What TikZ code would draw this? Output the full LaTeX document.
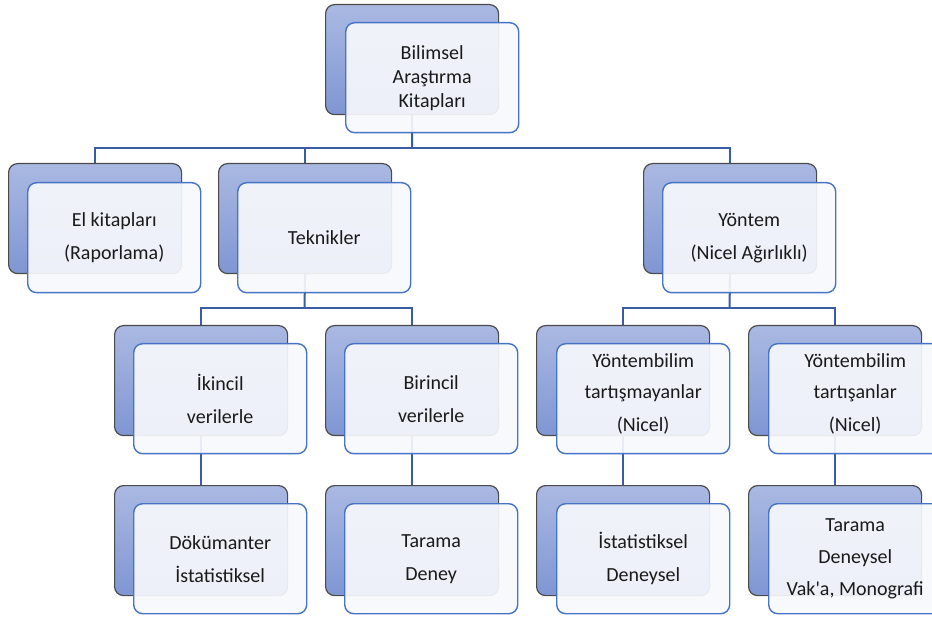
\documentclass[tikz,border=0pt]{standalone}
\usepackage{fontspec}
\setmainfont{Carlito}
\usetikzlibrary{backgrounds}
\definecolor{backtop}{HTML}{AAB9E2}
\definecolor{backbot}{HTML}{7F96D3}
\definecolor{backline}{HTML}{4A4A4A}
\definecolor{frontline}{HTML}{4673C6}
\definecolor{frontfill}{HTML}{F7F8FC}
\definecolor{connc}{HTML}{3A5CA6}
\definecolor{textc}{HTML}{1A1A1A}
\begin{document}
\begin{tikzpicture}[x=1pt,y=-1pt,
  back/.style={draw=backline, line width=1.2pt, rounded corners=9pt,
    top color=backtop, bottom color=backbot,
    minimum width=173pt, minimum height=110pt, anchor=north west, inner sep=0pt},
  front/.style={draw=frontline, line width=1.4pt, rounded corners=9pt,
    fill=frontfill, fill opacity=0.92, text opacity=1,
    minimum width=173pt, minimum height=110pt, anchor=north west, inner sep=0pt,
    align=center, text=textc, font=\fontsize{20}{24}\selectfont},
  conn/.style={draw=connc, line width=2pt}]
\useasboundingbox (0,0) rectangle (932,617);
% level 1
\node[back] (b0) at (325,4) {};
\node[front] (f0) at (345,22) {Bilimsel\\Araştırma\\Kitapları};
% level 2
\node[back] (b1) at (8,163) {};
\node[front] (f1) at (27,182) {El kitapları\\[9pt](Raporlama)};
\node[back] (b2) at (218,163) {};
\node[front] (f2) at (237,182) {Teknikler};
\node[back] (b3) at (643,163) {};
\node[front] (f3) at (662,182) {Yöntem\\[9pt](Nicel Ağırlıklı)};
% level 3
\node[back] (b4) at (114,325) {};
\node[front] (f4) at (133,343) {İkincil\\[9pt]verilerle};
\node[back] (b5) at (325,325) {};
\node[front] (f5) at (344,343) {Birincil\\[9pt]verilerle};
\node[back] (b6) at (536,325) {};
\node[front] (f6) at (556,343) {Yöntembilim\\[7pt]tartışmayanlar\\[9pt](Nicel)\rule[-13pt]{0pt}{13pt}};
\node[back] (b7) at (748,325) {};
\node[front] (f7) at (768,343) {Yöntembilim\\[7pt]tartışanlar\\[9pt](Nicel)\rule[-13pt]{0pt}{13pt}};
% level 4
\node[back] (b8) at (114,485) {};
\node[front] (f8) at (133,503) {Dökümanter\\[9pt]İstatistiksel};
\node[back] (b9) at (325,485) {};
\node[front] (f9) at (344,503) {Tarama\\[9pt]Deney};
\node[back] (b10) at (536,485) {};
\node[front] (f10) at (556,503) {İstatistiksel\\[9pt]Deneysel};
\node[back] (b11) at (748,485) {};
\node[front] (f11) at (768,503) {Tarama\\[8pt]Deneysel\\[8pt]Vak\textquotesingle a, Monografi};
% connectors
\coordinate (j0) at (412,148);
\coordinate (j1) at (304.5,308);
\coordinate (j2) at (729.5,308);
\begin{scope}[on background layer]
\draw[conn] (b0.south) -- (j0);
\draw[conn] (j0) -| (b1.north);
\draw[conn] (j0) -| (b2.north);
\draw[conn] (j0) -| (b3.north);
\draw[conn] (b2.south) -- (j1);
\draw[conn] (j1) -| (b4.north);
\draw[conn] (j1) -| (b5.north);
\draw[conn] (b3.south) -- (j2);
\draw[conn] (j2) -| (b6.north);
\draw[conn] (j2) -| (b7.north);
\draw[conn] (b4.south) -- (b8.north);
\draw[conn] (b5.south) -- (b9.north);
\draw[conn] (b6.south) -- (b10.north);
\draw[conn] (b7.south) -- (b11.north);
\end{scope}
\end{tikzpicture}
\end{document}
